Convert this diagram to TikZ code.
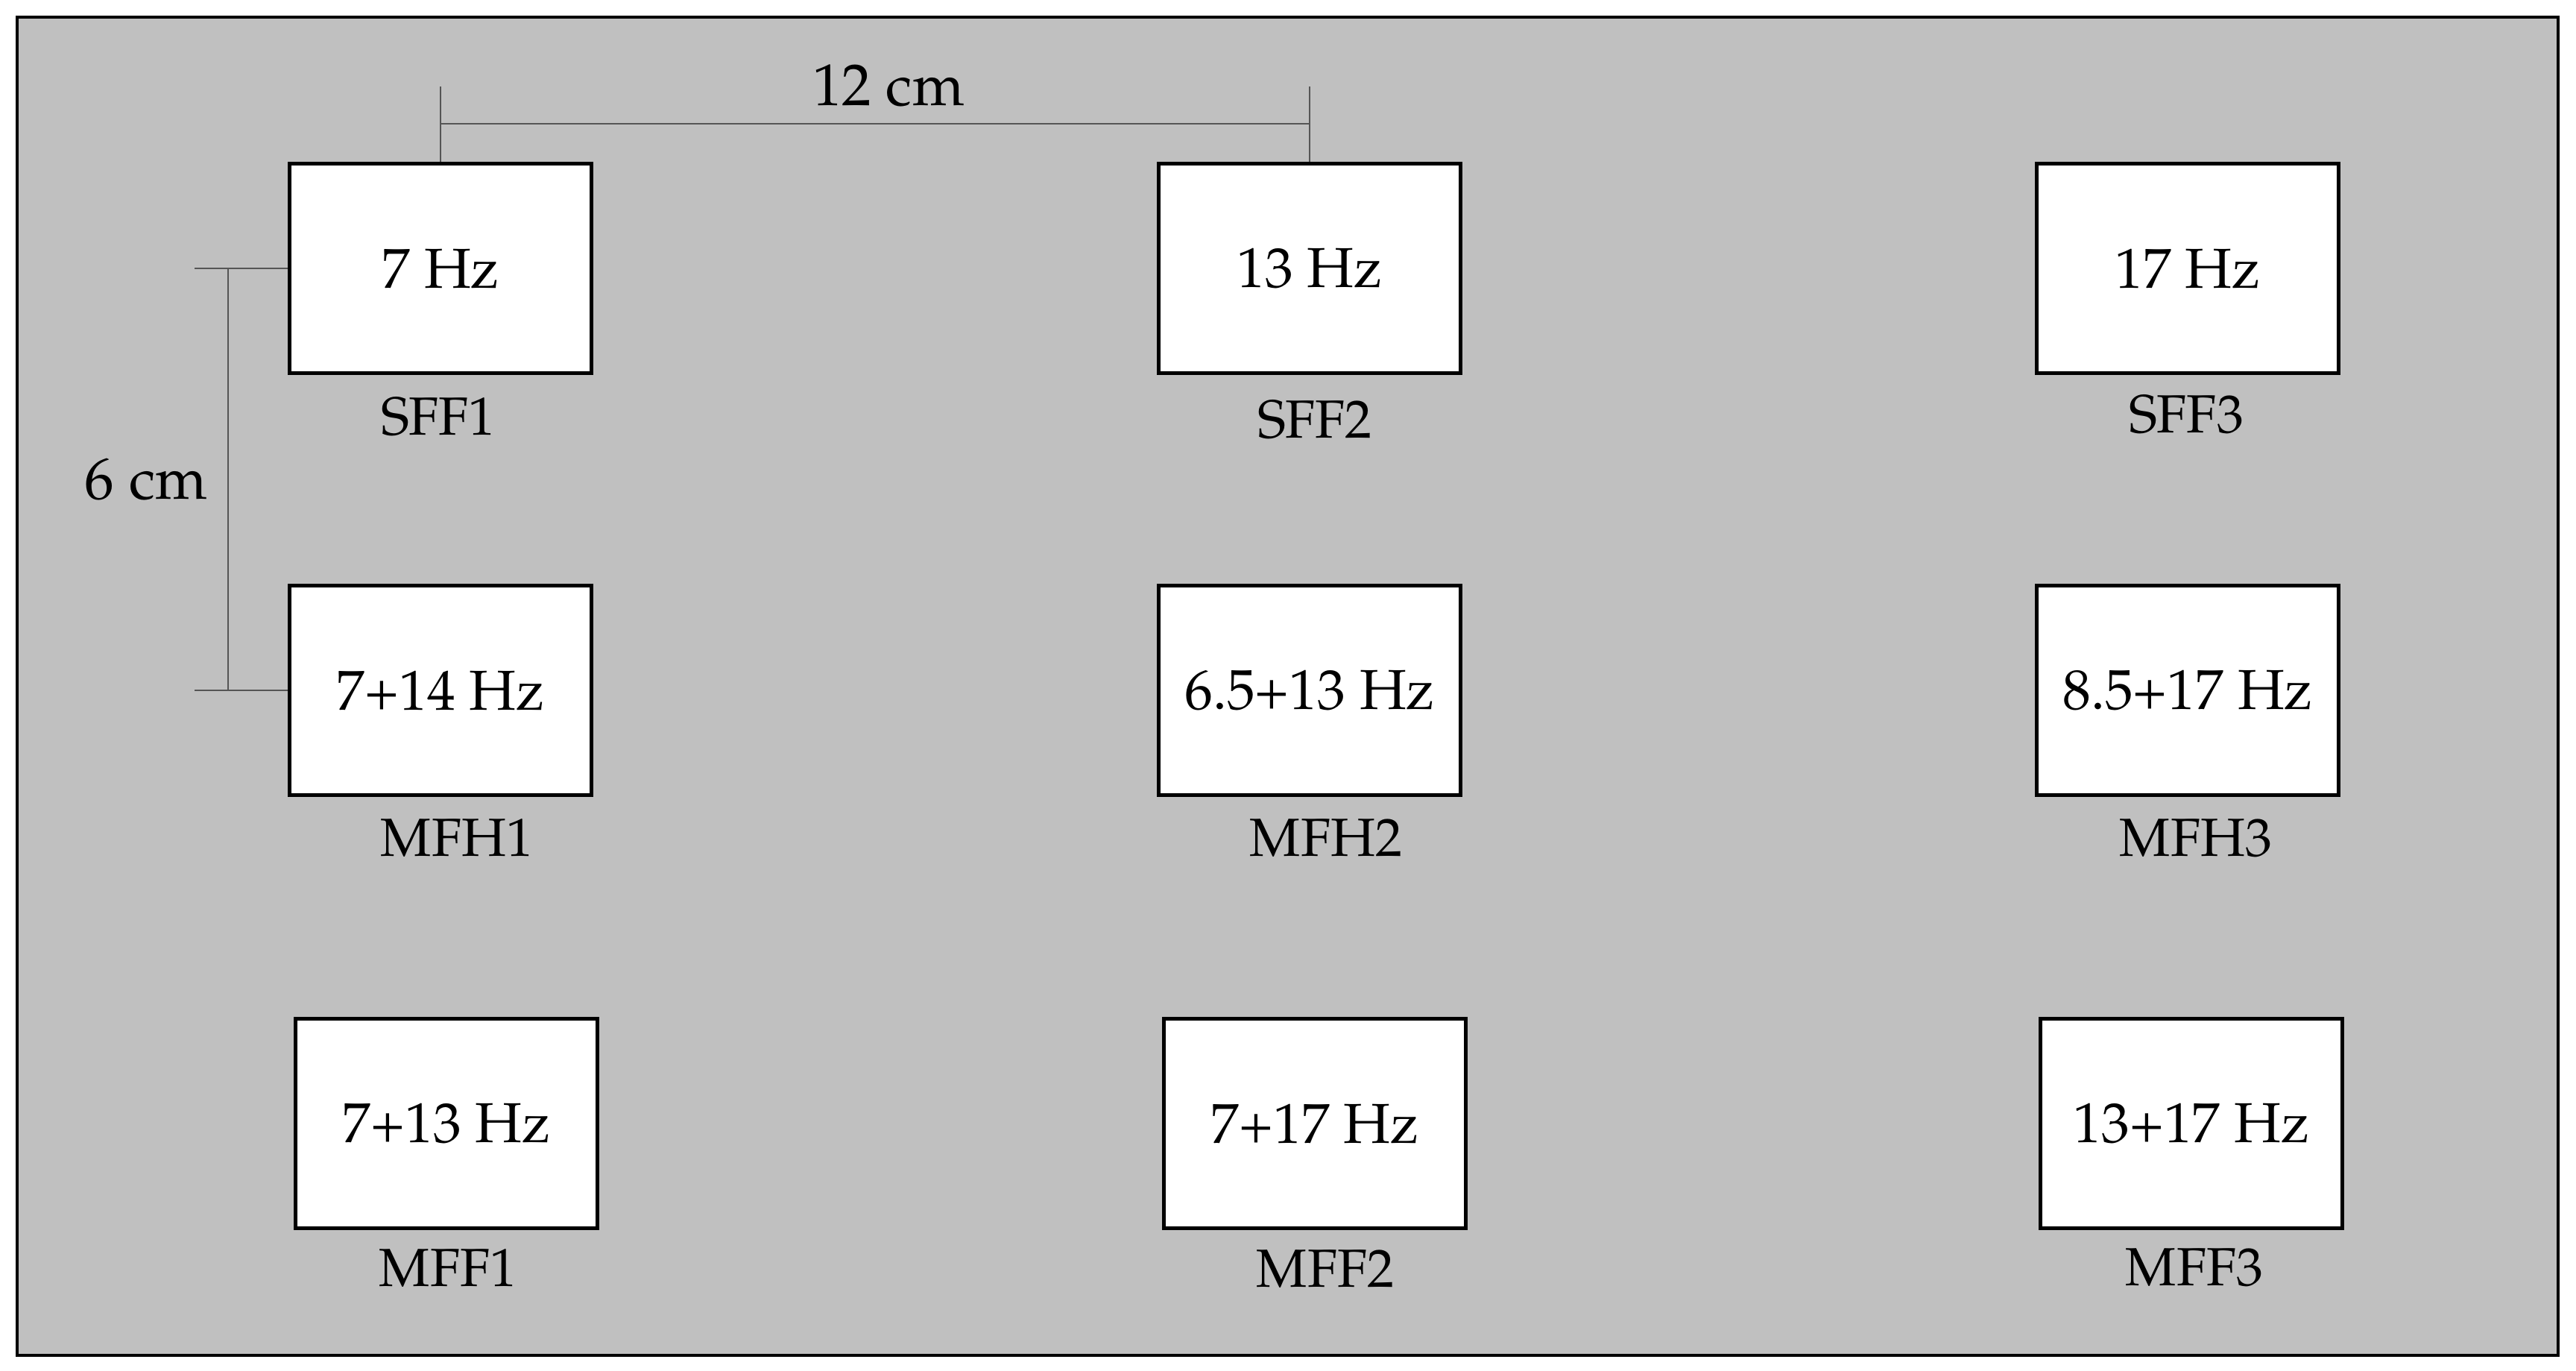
\documentclass[tikz,border=0pt]{standalone}
\usepackage[T1]{fontenc}
\usepackage{mathpazo}
\usepackage{tikz}
\usetikzlibrary{positioning,calc}
\definecolor{panel}{RGB}{192,192,192}
\definecolor{dimline}{RGB}{85,85,85}

\begin{document}
\begin{tikzpicture}[box/.style={draw,line width=1.4pt,fill=white,minimum width=4.05cm,
minimum height=2.81cm,inner sep=0pt,font=\fontsize{21.5}{26}\selectfont},
caplbl/.style={anchor=base,inner sep=0pt,font=\fontsize{20.5}{24}\selectfont},
dim/.style={dimline,line width=0.6pt},
dimlbl/.style={text=black,font=\fontsize{22.5}{27}\selectfont}]
\useasboundingbox (0,0) rectangle (34.56,-18.38);
\draw[line width=1.3pt,fill=panel] (0.23,-0.23) rectangle (34.32,-18.18);
% stimulus boxes
\foreach \n/\x/\y/\t in {sff1/5.91/-3.60/7 Hz,sff2/17.57/-3.60/13 Hz,sff3/29.35/-3.60/17 Hz,
mfh1/5.91/-9.26/7+14 Hz,mfh2/17.57/-9.26/6.5+13 Hz,mfh3/29.35/-9.26/8.5+17 Hz,
mff1/5.99/-15.07/7+13 Hz,mff2/17.64/-15.07/7+17 Hz,mff3/29.40/-15.07/13+17 Hz}
\node[box] (\n) at (\x,\y) {\t};
\foreach \n/\l/\s/\d in {sff1/SFF1/-0.03/0.81,sff2/SFF2/0.07/0.85,sff3/SFF3/-0.02/0.78,
mfh1/MFH1/0.22/0.80,mfh2/MFH2/0.22/0.80,mfh3/MFH3/0.11/0.80,
mff1/MFF1/0.02/0.76,mff2/MFF2/0.14/0.77,mff3/MFF3/0.04/0.75}
\node[caplbl] (l\n) at ([xshift=\s cm,yshift=-\d cm]\n.south) {\l};
% distances
\draw[dim] (sff1.north) -- ++(0,1.01);
\draw[dim] (sff2.north) -- ++(0,1.01);
\draw[dim] ([yshift=0.51cm]sff1.north) -- node[dimlbl,above,inner sep=0.22cm,xshift=0.18cm] (hdist) {12 cm}
([yshift=0.51cm]sff2.north);
\draw[dim] (sff1.west) -- ++(-1.25,0);
\draw[dim] (mfh1.west) -- ++(-1.25,0);
\draw[dim] ([xshift=-0.80cm]sff1.west) -- node[dimlbl,left,inner sep=0.27cm] (vdist) {6 cm}
([xshift=-0.80cm]mfh1.west);
\end{tikzpicture}
\end{document}
